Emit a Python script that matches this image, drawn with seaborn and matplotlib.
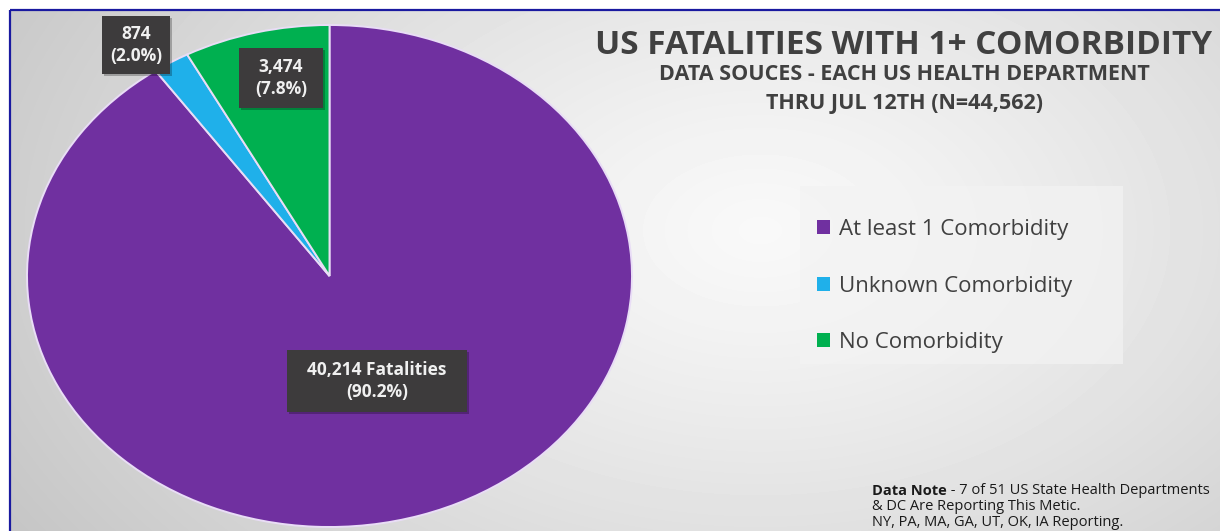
import numpy as np
import matplotlib
matplotlib.use("Agg")
import matplotlib.pyplot as plt
from matplotlib.patches import Patch, Rectangle
import seaborn as sns

# --- data -------------------------------------------------------------
categories = ["At least 1 Comorbidity", "Unknown Comorbidity", "No Comorbidity"]
fatalities = [40214, 874, 3474]
label_suffix = [" Fatalities", "", ""]
title = "US FATALITIES WITH 1+ COMORBIDITY"
subtitle = ["DATA SOUCES - EACH US HEALTH DEPARTMENT", "THRU JUL 12TH (N=44,562)"]
note_head = "Data Note"
note_lines = [" - 7 of 51 US State Health Departments",
              "& DC Are Reporting This Metic.",
              "NY, PA, MA, GA, UT, OK, IA Reporting."]

sns.set_style("white")
plt.rcParams["font.family"] = ["Open Sans", "DejaVu Sans"]
palette = sns.color_palette(["#7030a0", "#1fb0ea", "#00b050"])

W, H = 1220, 531
fig = plt.figure(figsize=(W / 100, H / 100), dpi=100)
fig.patch.set_facecolor("white")

# --- background: soft radial gray gradient inside a blue frame -------
bg = fig.add_axes([0, 0, 1, 1])
bg.set_xlim(0, W)
bg.set_ylim(H, 0)
bg.axis("off")
yy, xx = np.mgrid[0:H, 0:W]
d = np.sqrt(((xx - 760) / 650.0) ** 2 + ((yy - 230) / 420.0) ** 2)
shade = 0.975 - 0.14 * d ** 1.2
bg.imshow(shade[10:, 10:], cmap="gray", vmin=0, vmax=1,
          extent=(10, W, H, 10), aspect="auto", interpolation="bilinear")
# lighter panel behind the legend
bg.add_patch(Rectangle((800, 186), 323, 178, facecolor="#f3f3f3",
                       edgecolor="none", alpha=0.7))
bg.plot([10, W], [10, 10], color="#1a1aa0", lw=1.6, solid_capstyle="butt")
bg.plot([10, 10], [10, H], color="#1a1aa0", lw=1.6, solid_capstyle="butt")

# --- pie ------------------------------------------------------------
px0, px1, py0, py1 = 27, 632, 25, 527
pie_ax = fig.add_axes([px0 / W, 1 - py1 / H, (px1 - px0) / W, (py1 - py0) / H])
wedges, _ = pie_ax.pie(fatalities, colors=palette, startangle=90,
                       counterclock=False,
                       wedgeprops=dict(edgecolor="#e9ddf6", linewidth=1.4))
pie_ax.set_aspect("auto")
pie_ax.set_xlim(-1, 1)
pie_ax.set_ylim(-1, 1)
pie_ax.patch.set_alpha(0)

# --- overlay for labels and text -------------------------------------
ov = fig.add_axes([0, 0, 1, 1])
ov.set_xlim(0, W)
ov.set_ylim(H, 0)
ov.axis("off")
ov.patch.set_alpha(0)

total = sum(fatalities)
label_pos = [(377, 381), (136, 45), (281, 78)]
label_pad = [(20, 11), (8, 9), (16, 10)]
renderer = fig.canvas.get_renderer()
inv = ov.transData.inverted()
for val, suf, (lx, ly), (padx, pady) in zip(fatalities, label_suffix,
                                            label_pos, label_pad):
    txt = f"{val:,}{suf}\n({100 * val / total:.1f}%)"
    t = ov.text(lx, ly, txt, ha="center", va="center", color="#f0f0f0",
                fontsize=12.5, fontweight="bold", linespacing=1.3, zorder=5)
    bb = t.get_window_extent(renderer)
    (x0, y1), (x1, y0) = inv.transform([(bb.x0, bb.y0), (bb.x1, bb.y1)])
    ov.add_patch(Rectangle((x0 - padx + 2, y0 - pady + 2),
                           (x1 - x0) + 2 * padx, (y1 - y0) + 2 * pady,
                           facecolor="black", alpha=0.25, edgecolor="none",
                           zorder=3))
    ov.add_patch(Rectangle((x0 - padx, y0 - pady),
                           (x1 - x0) + 2 * padx, (y1 - y0) + 2 * pady,
                           facecolor="#3d3b3c", edgecolor="none", zorder=4))

ov.text(904, 46, title, ha="center", va="center", fontsize=24,
        fontweight="bold", color="#404040")
ov.text(904, 75, subtitle[0], ha="center", va="center", fontsize=15.5,
        fontweight="bold", color="#404040")
ov.text(904, 103, subtitle[1], ha="center", va="center", fontsize=15.5,
        fontweight="bold", color="#404040")

# data note
nt = ov.text(872, 491, note_head, ha="left", va="center", fontsize=10.5,
             fontweight="bold", color="#1a1a1a")
bb = nt.get_window_extent(renderer)
x_after = inv.transform([(bb.x1, bb.y0)])[0][0]
ov.text(x_after, 491, note_lines[0], ha="left", va="center", fontsize=10.5,
        color="#1a1a1a")
ov.text(872, 507, note_lines[1], ha="left", va="center", fontsize=10.5,
        color="#1a1a1a")
ov.text(872, 522, note_lines[2], ha="left", va="center", fontsize=10.5,
        color="#1a1a1a")

# --- legend ---------------------------------------------------------
handles = [Patch(facecolor=c, edgecolor="none") for c in palette]
fig.legend(handles, categories, loc="upper left",
           bbox_to_anchor=(797 / W, 1 - 199 / H), frameon=False,
           fontsize=16, handlelength=0.58, handleheight=0.58,
           handletextpad=0.4, labelspacing=1.6, labelcolor="#404040")

fig.savefig("out.png", dpi=100)
